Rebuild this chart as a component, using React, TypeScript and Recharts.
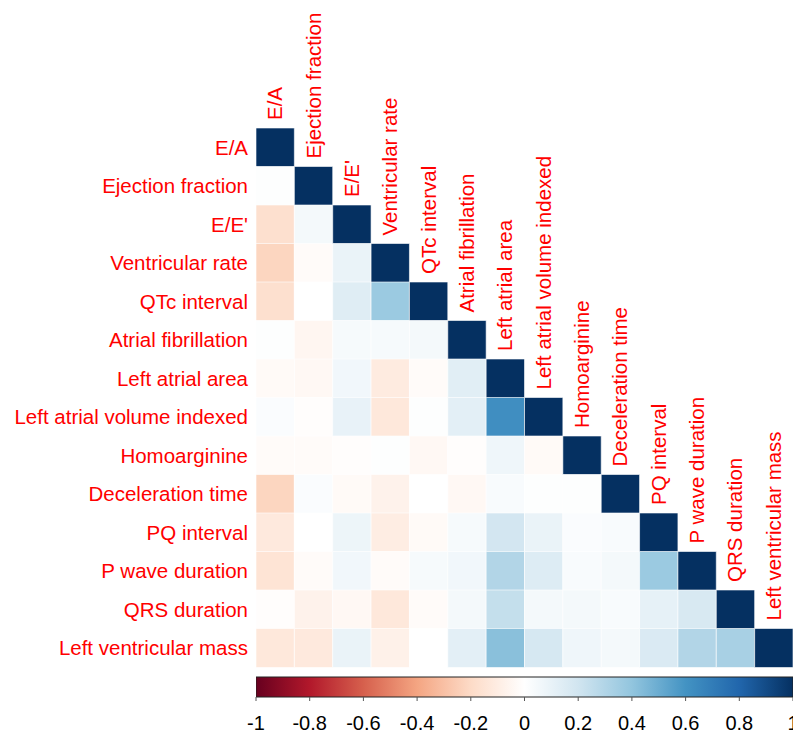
import React from "react";
import {
  BarChart,
  Bar,
  Cell,
  XAxis,
  YAxis,
  LabelList,
} from "recharts";

const names = [
  "E/A",
  "Ejection fraction",
  "E/E'",
  "Ventricular rate",
  "QTc interval",
  "Atrial fibrillation",
  "Left atrial area",
  "Left atrial volume indexed",
  "Homoarginine",
  "Deceleration time",
  "PQ interval",
  "P wave duration",
  "QRS duration",
  "Left ventricular mass",
];

// lower-triangle correlations, one row per variable
const rEA = [1];
const rEF = [0.01, 1];
const rEE = [-0.17, 0.05, 1];
const rVR = [-0.22, -0.02, 0.09, 1];
const rQTc = [-0.17, 0.0, 0.14, 0.37, 1];
const rAF = [0.01, -0.05, 0.04, 0.04, 0.05, 1];
const rLAA = [-0.03, -0.04, 0.06, -0.11, -0.02, 0.13, 1];
const rLAVI = [0.02, -0.01, 0.1, -0.13, 0.01, 0.12, 0.62, 1];
const rHA = [-0.02, -0.02, -0.01, 0.01, -0.04, -0.01, 0.07, -0.03, 1];
const rDT = [-0.22, 0.02, -0.03, -0.07, 0.0, -0.04, 0.03, 0.01, 0.01, 1];
const rPQ = [-0.12, 0.0, 0.08, -0.1, -0.03, 0.04, 0.19, 0.09, 0.02, 0.03, 1];
const rPW = [-0.15, -0.02, 0.06, -0.02, 0.04, 0.06, 0.3, 0.15, 0.03, 0.05, 0.37, 1];
const rQRS = [-0.01, -0.07, -0.04, -0.13, -0.02, 0.05, 0.24, 0.05, 0.05, 0.03, 0.11, 0.17, 1];
const rLVM = [-0.13, -0.12, 0.09, -0.08, 0.0, 0.12, 0.42, 0.18, 0.07, 0.05, 0.16, 0.3, 0.33, 1];

const corrRows = [rEA, rEF, rEE, rVR, rQTc, rAF, rLAA, rLAVI, rHA, rDT, rPQ, rPW, rQRS, rLVM];

const cbTicks = [-1, -0.8, -0.6, -0.4, -0.2, 0, 0.2, 0.4, 0.6, 0.8, 1];
const cbTickLabels = ["-1", "-0.8", "-0.6", "-0.4", "-0.2", "0", "0.2", "0.4", "0.6", "0.8", "1"];
const cbRange = [-1, 1];

const palette = [
  "#67001F", "#B2182B", "#D6604D", "#F4A582", "#FDDBC7", "#FFFFFF",
  "#D1E5F0", "#92C5DE", "#4393C3", "#2166AC", "#053061",
];

function hexToRgb(h: string) {
  return [parseInt(h.slice(1, 3), 16), parseInt(h.slice(3, 5), 16), parseInt(h.slice(5, 7), 16)];
}

function corrColor(v: number) {
  const t = ((Math.max(-1, Math.min(1, v)) + 1) / 2) * (palette.length - 1);
  const i = Math.min(palette.length - 2, Math.floor(t));
  const f = t - i;
  const a = hexToRgb(palette[i]);
  const b = hexToRgb(palette[i + 1]);
  const c = a.map((x, k) => Math.round(x + (b[k] - x) * f));
  return `rgb(${c[0]},${c[1]},${c[2]})`;
}

const n = names.length;
const tableData = names.map((name) => {
  const row: any = { name };
  for (let j = 0; j < n; j++) row["c" + j] = 1;
  return row;
});

const cbData = [{ name: "cb", range: cbRange }];

const FONT = "'Liberation Sans', Arial, sans-serif";
const FS = 20.5;

const makeTopLabel = (j: number) => (props: any) => {
  const { x, y, width, index } = props;
  if (index !== j) return null;
  const cx = Number(x) + Number(width) / 2 + 7;
  const ty = Number(y) - 8;
  return (
    <text
      x={cx}
      y={ty}
      transform={`rotate(-90 ${cx} ${ty})`}
      textAnchor="start"
      fill="#FF0000"
      fontSize={FS}
      fontFamily={FONT}
    >
      {names[j]}
    </text>
  );
};

export default function App() {
  return (
    <div style={{ position: "absolute", left: 0, top: 0, width: 793, height: 733, background: "#fff" }}>
      <div style={{ position: "absolute", left: 0, top: 0 }}>
        <BarChart
          width={793}
          height={680}
          data={tableData}
          layout="vertical"
          margin={{ top: 128, right: 0, bottom: 13, left: 0 }}
          barCategoryGap={0}
          barGap={0}
        >
          <XAxis type="number" domain={[0, n]} hide />
          <YAxis
            type="category"
            dataKey="name"
            width={256}
            axisLine={false}
            tickLine={false}
            tickSize={0}
            tickMargin={8}
            interval={0}
            tick={{ fill: "#FF0000", fontSize: FS, fontFamily: FONT }}
          />
          {names.map((_, j) => (
            <Bar key={j} dataKey={"c" + j} stackId="s" isAnimationActive={false}>
              {corrRows.map((row, i) => (
                <Cell
                  key={i}
                  fill={j <= i ? corrColor(row[j]) : "none"}
                  stroke={j <= i ? "#ffffff" : "none"}
                  strokeWidth={0.6}
                />
              ))}
              <LabelList dataKey={"c" + j} content={makeTopLabel(j)} />
            </Bar>
          ))}
        </BarChart>
      </div>
      <div style={{ position: "absolute", left: 0, top: 660 }}>
        <BarChart
          width={793}
          height={73}
          data={cbData}
          layout="vertical"
          margin={{ top: 17, right: 0, bottom: 0, left: 256 }}
          barCategoryGap={0}
        >
          <defs>
            <linearGradient id="cbGrad" x1="0" y1="0" x2="1" y2="0">
              {palette.map((c, k) => (
                <stop key={k} offset={`${(k / (palette.length - 1)) * 100}%`} stopColor={c} />
              ))}
            </linearGradient>
          </defs>
          <XAxis
            type="number"
            domain={[-1, 1]}
            ticks={cbTicks}
            interval={0}
            axisLine={false}
            tickSize={4}
            tickMargin={15}
            tickLine={{ stroke: "#555" }}
            height={36}
            tickFormatter={(v: number) => cbTickLabels[cbTicks.indexOf(v)] ?? String(v)}
            tick={{ fill: "#000", fontSize: 20, fontFamily: FONT }}
            allowDataOverflow
          />
          <YAxis type="category" dataKey="name" hide width={0} />
          <Bar
            dataKey="range"
            fill="url(#cbGrad)"
            stroke="#222"
            strokeWidth={1}
            isAnimationActive={false}
          />
        </BarChart>
      </div>
    </div>
  );
}
